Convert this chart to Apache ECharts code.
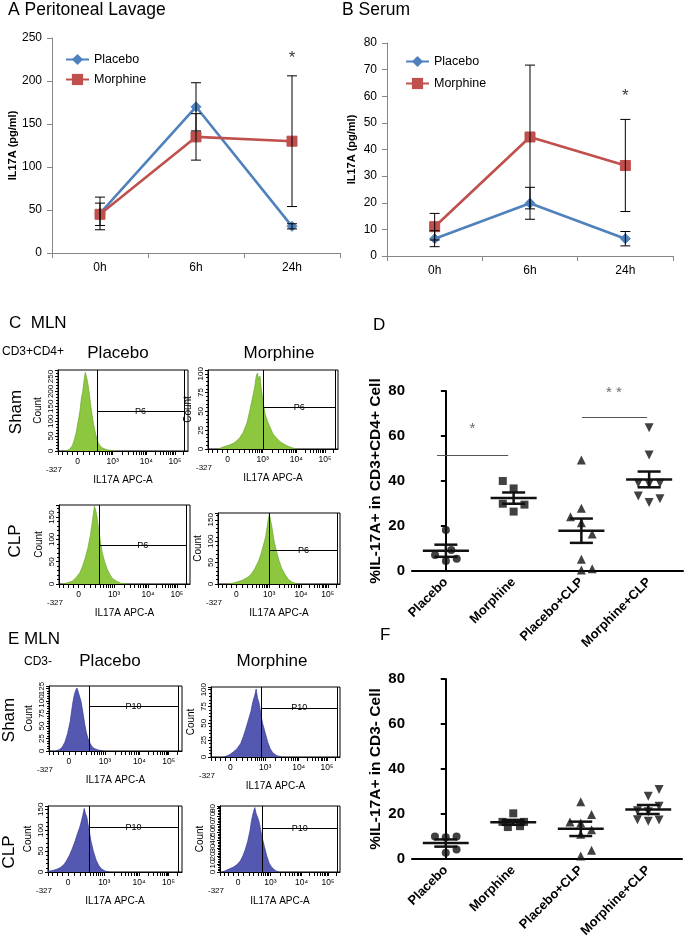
<!DOCTYPE html>
<html><head><meta charset="utf-8">
<script src="https://cdn.jsdelivr.net/npm/echarts@6/dist/echarts.min.js"></script>
<style>html,body{margin:0;padding:0;background:#fff}#c{width:685px;height:946px}</style>
</head><body><div id="c"></div>
<script>
// ---------- DATA ----------
const timeCats = ['0h', '6h', '24h'];
const lavagePlacebo = [46, 170, 31];
const lavagePlaceboErr = [19, 28, 3];
const lavageMorphine = [45, 135, 130];
const lavageMorphineErr = [13, 27, 76];
const lavageStar = [['24h', 226]];
const serumPlacebo = [6.5, 19.8, 6.5];
const serumPlaceboErr = [3, 6, 2.7];
const serumMorphine = [11, 44.7, 34];
const serumMorphineErr = [5, 27, 17.3];
const serumStar = [['24h', 60]];

const groupCats = ['Placebo', 'Morphine', 'Placebo+CLP', 'Morphine+CLP'];
// panel D: values and jitter (category units)
const dPlacebo = [18.2, 7.1, 9.3, 4.4, 5.5];
const dPlaceboJit = [0, -0.16, 0.08, 0, 0.16];
const dMorphine = [40, 36.7, 29.9, 29.5, 26.4];
const dMorphineJit = [-0.16, 0, -0.16, 0.16, 0];
const dPlaceboCLP = [49.3, 27.9, 24.1, 21.5, 16.4, 5.2, 0.4, 1.0];
const dPlaceboCLPJit = [0, 0, -0.16, 0, 0.16, 0, 0, 0.16];
const dMorphineCLP = [63.7, 51.6, 39, 38.7, 39, 33.3, 30.5, 32.1];
const dMorphineCLPJit = [0, 0, -0.16, 0, 0.16, -0.16, 0, 0.16];
const dMean = [9.0, 32.4, 17.9, 40.7];
const dSem = [2.7, 2.5, 5.4, 3.5];
const dSigLines = [[-0.13, 0.92, 51.4], [2.01, 2.97, 68.3]];
const dSigStars = [[0.39, 63, '*'], [2.48, 79, '* *']];
// panel F
const fPlacebo = [10.0, 9.7, 10.0, 2.8, 4.2];
const fPlaceboJit = [-0.16, 0, 0.16, 0, 0.16];
const fMorphine = [20.3, 16.5, 16.5, 14.2, 14.6];
const fMorphineJit = [0, -0.16, 0.16, -0.08, 0.1];
const fPlaceboCLP = [25.4, 19.8, 16.5, 16.0, 13.0, 11.0, 3.9, 1.3];
const fPlaceboCLPJit = [0, 0.16, -0.16, 0, 0.16, 0, 0.16, 0];
const fMorphineCLP = [30.9, 27.9, 23.5, 21.5, 21.0, 17.5, 16.8, 17.3];
const fMorphineCLPJit = [0.16, 0, 0.16, -0.16, 0, -0.16, 0, 0.16];
const fMean = [7.1, 16.3, 13.4, 22.0];
const fSem = [1.6, 1.1, 3.2, 2.0];

// flow histograms: [position (display units 0-100), count]
const cShamPlacebo = [[5,0],[7,2],[9,6],[11,18],[12,30],[13,45],[14,62],[15,88],[16,112],[17,138],[18,178],[19,198],[20,236],[21,264],[22,248],[23,226],[24,196],[25,158],[26,128],[27,98],[28,76],[29,56],[30,40],[31,28],[32,19],[34,11],[36,7],[38,4],[41,2],[45,0]];
const cShamMorphine = [[8,0],[12,3],[16,5],[20,8],[24,14],[27,22],[30,35],[32,50],[34,66],[36,83],[37,96],[38,101],[39,92],[40,97],[41,80],[42,68],[43,56],[44,46],[46,36],[48,28],[50,20],[53,14],[56,9],[60,5],[64,2],[68,0]];
const cCLPPlacebo = [[2,0],[6,2],[10,6],[13,14],[16,26],[18,40],[20,58],[22,80],[24,110],[25,130],[26,152],[27,174],[28,166],[29,150],[30,128],[31,108],[32,88],[33,70],[35,48],[37,32],[39,20],[41,12],[44,6],[47,2],[52,0]];
const cCLPMorphine = [[8,0],[12,2],[16,5],[20,9],[24,15],[27,22],[30,35],[33,52],[35,68],[37,88],[39,110],[40,128],[41,148],[42,163],[43,150],[44,136],[45,118],[46,100],[48,76],[50,55],[52,38],[55,22],[58,10],[61,4],[65,0]];
const eShamPlacebo = [[5,0],[8,3],[10,8],[12,18],[14,35],[16,60],[17,80],[18,98],[19,112],[20,121],[21,126],[22,118],[23,116],[24,100],[25,85],[26,68],[27,52],[28,38],[29,28],[30,20],[32,10],[34,5],[37,2],[41,0]];
const eShamMorphine = [[10,0],[14,3],[17,7],[20,12],[23,20],[25,30],[27,42],[29,55],[31,68],[32,78],[33,86],[34,92],[35,101],[36,88],[37,82],[38,72],[39,60],[40,50],[42,36],[44,22],[46,12],[48,6],[51,2],[55,0]];
const eCLPPlacebo = [[0,2],[3,3],[6,6],[9,10],[12,18],[14,28],[16,40],[18,55],[20,72],[22,92],[24,110],[25,123],[26,136],[27,152],[28,140],[29,131],[30,112],[31,95],[32,75],[34,48],[36,28],[38,15],[40,7],[43,2],[46,0]];
const eCLPMorphine = [[2,0],[5,2],[8,4],[11,6],[14,9],[17,14],[19,20],[21,28],[23,38],[25,52],[26,62],[27,70],[28,76],[29,81],[30,74],[31,72],[32,66],[33,60],[34,52],[35,44],[37,32],[39,20],[41,11],[43,6],[46,2],[49,0]];
const histData = [cShamPlacebo, cShamMorphine, cCLPPlacebo, cCLPMorphine, eShamPlacebo, eShamMorphine, eCLPPlacebo, eCLPMorphine];
// gates: [left, right, level]
const histGates = [[30,97,134],[42.3,98,55],[31,97,87],[42,98,79],[30,97,89],[38.8,98,73],[30.6,97,106],[35,98,55]];
const histGateNames = ['P6','P6','P6','P6','P10','P10','P10','P10'];
const histYMax = [272,105,177,166,130,104,158,83];
const histYStep = [50,25,50,50,25,25,50,10];
const histTickLabels = {0:'{l|-327}', 15:'0', 42:'10³', 68:'10⁴', 90:'10⁵'};
const histLabelPos = [0, 15, 42, 68, 90];
const histTickPos = [0,3.5,7,11,15,19.5,24,28,31.5,34,36,37.7,39.2,40.6,42,49.8,54.4,57.7,60.2,62.2,64,65.5,66.8,68,74.6,78.5,81.2,83.4,85.1,86.6,87.9,89,90,96.6];

// ---------- LAYOUT ----------
const FONT = 'Liberation Sans, Arial, sans-serif';
const histLayout = [
  {left:58, top:370, width:130, height:81},
  {left:208, top:370, width:130, height:79},
  {left:59, top:505, width:131, height:79},
  {left:218, top:513, width:122, height:71},
  {left:49, top:686, width:133, height:65},
  {left:211, top:687, width:129, height:70},
  {left:48, top:806, width:134, height:66},
  {left:220, top:806, width:120, height:66}
];
const histFill = ['#8dc63f','#8dc63f','#8dc63f','#8dc63f','#5558b0','#5558b0','#5558b0','#5558b0'];
const histEdge = ['#6aa830','#6aa830','#6aa830','#6aa830','#363a96','#363a96','#363a96','#363a96'];

const grids = [
  {left:52, top:38, width:288, height:215},
  {left:387, top:43, width:286, height:213},
  {left:412, top:391, width:271, height:180},
  {left:412, top:679, width:270, height:180}
].concat(histLayout.map(h => Object.assign({show:true, borderColor:'#000', borderWidth:1}, h)));
grids.forEach(g => { g.outerBoundsMode = 'none'; g.containLabel = false; });

const xAxes = [], yAxes = [], series = [];

// Excel-style line charts
function excelAxes(gi, ymax, step) {
  xAxes.push({gridIndex:gi, type:'category', data:timeCats, boundaryGap:true,
    axisLine:{lineStyle:{color:'#868686', width:1}}, axisTick:{show:true, length:5, lineStyle:{color:'#868686'}},
    axisLabel:{color:'#000', fontSize:12, fontFamily:FONT, margin:9}});
  yAxes.push({gridIndex:gi, type:'value', min:0, max:ymax, interval:step,
    axisLine:{show:true, lineStyle:{color:'#868686', width:1}}, axisTick:{show:true, length:5, lineStyle:{color:'#868686'}},
    splitLine:{show:false}, axisLabel:{color:'#000', fontSize:12, fontFamily:FONT, margin:10},
    name:'IL17A (pg/ml)', nameLocation:'middle', nameGap:gi === 0 ? 34 : 30,
    nameTextStyle:{color:'#000', fontSize:11, fontWeight:'bold', fontFamily:FONT}});
}
excelAxes(0, 250, 50);
excelAxes(1, 80, 10);

function errBars(ai, vals, errs) {
  return {type:'custom', xAxisIndex:ai, yAxisIndex:ai, z:5, silent:true,
    data: vals.map((v, i) => [i, v - errs[i], v + errs[i]]),
    renderItem(p, api) {
      const lo = api.coord([api.value(0), api.value(1)]);
      const hi = api.coord([api.value(0), api.value(2)]);
      const w = 5, st = {stroke:'#000', lineWidth:1};
      return {type:'group', children:[
        {type:'line', shape:{x1:lo[0], y1:lo[1], x2:hi[0], y2:hi[1]}, style:st},
        {type:'line', shape:{x1:lo[0]-w, y1:lo[1], x2:lo[0]+w, y2:lo[1]}, style:st},
        {type:'line', shape:{x1:hi[0]-w, y1:hi[1], x2:hi[0]+w, y2:hi[1]}, style:st}
      ]};
    }};
}
function lineSeries(ai, name, vals, color, sym, size) {
  return {type:'line', name, xAxisIndex:ai, yAxisIndex:ai, data:vals, symbol:sym, symbolSize:size,
    lineStyle:{color, width:2.6}, itemStyle:{color, borderColor:color}, z:3};
}
function starSeries(ai, pts) {
  return {type:'scatter', xAxisIndex:ai, yAxisIndex:ai, data:pts, symbolSize:0, silent:true,
    label:{show:true, formatter:'*', position:'inside', fontSize:17, color:'#000', fontFamily:FONT}};
}
series.push(lineSeries(0, 'Placebo', lavagePlacebo, '#4F81BD', 'diamond', 10));
series.push(lineSeries(0, 'Morphine', lavageMorphine, '#C0504D', 'rect', 10));
series.push(errBars(0, lavagePlacebo, lavagePlaceboErr));
series.push(errBars(0, lavageMorphine, lavageMorphineErr));
series.push(starSeries(0, lavageStar));
series.push(lineSeries(1, 'Placebo', serumPlacebo, '#4F81BD', 'diamond', 10));
series.push(lineSeries(1, 'Morphine', serumMorphine, '#C0504D', 'rect', 10));
series.push(errBars(1, serumPlacebo, serumPlaceboErr));
series.push(errBars(1, serumMorphine, serumMorphineErr));
series.push(starSeries(1, serumStar));

// GraphPad-style scatter charts: grid 2 (D), grid 3 (F)
function prismAxes(gi, yname) {
  const catIdx = xAxes.length;
  xAxes.push({gridIndex:gi, type:'category', data:groupCats, boundaryGap:true,
    axisLine:{lineStyle:{color:'#000', width:2}}, axisTick:{alignWithLabel:true, length:6, lineStyle:{color:'#000', width:2}},
    axisLabel:{interval:0, rotate:45, color:'#000', fontSize:13, fontWeight:'bold', fontFamily:FONT, margin:9}});
  xAxes.push({gridIndex:gi, type:'value', min:-0.5, max:3.5, show:false});
  const yIdx = yAxes.length;
  yAxes.push({gridIndex:gi, type:'value', min:0, max:80, interval:20,
    axisLine:{show:true, lineStyle:{color:'#000', width:2}}, axisTick:{show:true, length:5, lineStyle:{color:'#000', width:2}},
    splitLine:{show:false}, axisLabel:{color:'#000', fontSize:15, fontWeight:'bold', fontFamily:FONT, margin:7},
    name:yname, nameLocation:'middle', nameGap:28,
    nameTextStyle:{color:'#000', fontSize:15.5, fontWeight:'bold', fontFamily:FONT}});
  return {vx: catIdx + 1, y: yIdx};
}
function groupPoints(ax, ci, vals, jit, sym, size, rot) {
  return {type:'scatter', xAxisIndex:ax.vx, yAxisIndex:ax.y, silent:true, z:4,
    data: vals.map((v, i) => [ci + jit[i], v]), symbol:sym, symbolSize:size, symbolRotate:rot || 0,
    itemStyle:{color:'#111'}};
}
function meanSem(ax, means, sems) {
  return {type:'custom', xAxisIndex:ax.vx, yAxisIndex:ax.y, z:6, silent:true,
    data: means.map((m, i) => [i, m, sems[i]]),
    renderItem(p, api) {
      const c = api.value(0), m = api.value(1), s = api.value(2);
      const l = api.coord([c - 0.34, m]), r = api.coord([c + 0.34, m]);
      const hl = api.coord([c - 0.17, m + s]), hr = api.coord([c + 0.17, m + s]);
      const ll = api.coord([c - 0.17, m - s]), lr = api.coord([c + 0.17, m - s]);
      const mid = api.coord([c, m]);
      const st = {stroke:'#111', lineWidth:2.5};
      return {type:'group', children:[
        {type:'line', shape:{x1:l[0], y1:l[1], x2:r[0], y2:r[1]}, style:st},
        {type:'line', shape:{x1:hl[0], y1:hl[1], x2:hr[0], y2:hr[1]}, style:st},
        {type:'line', shape:{x1:ll[0], y1:ll[1], x2:lr[0], y2:lr[1]}, style:st},
        {type:'line', shape:{x1:mid[0], y1:hl[1], x2:mid[0], y2:ll[1]}, style:st}
      ]};
    }};
}
const axD = prismAxes(2, '%IL-17A+ in CD3+CD4+ Cell');
series.push(groupPoints(axD, 0, dPlacebo, dPlaceboJit, 'circle', 8));
series.push(groupPoints(axD, 1, dMorphine, dMorphineJit, 'rect', 8));
series.push(groupPoints(axD, 2, dPlaceboCLP, dPlaceboCLPJit, 'triangle', 9));
series.push(groupPoints(axD, 3, dMorphineCLP, dMorphineCLPJit, 'triangle', 9, 180));
series.push(meanSem(axD, dMean, dSem));
series.push({type:'scatter', xAxisIndex:axD.vx, yAxisIndex:axD.y, silent:true, symbolSize:0,
  data: dSigStars.map(s => ({value:[s[0], s[1]], label:{formatter:s[2]}})),
  label:{show:true, position:'inside', fontSize:15, color:'#444', fontFamily:FONT},
  markLine:{silent:true, symbol:'none', label:{show:false}, lineStyle:{color:'#555', width:1.2, type:'solid'},
    data: dSigLines.map(s => [{coord:[s[0], s[2]]}, {coord:[s[1], s[2]]}])}});
const axF = prismAxes(3, '%IL-17A+ in CD3- Cell');
series.push(groupPoints(axF, 0, fPlacebo, fPlaceboJit, 'circle', 8));
series.push(groupPoints(axF, 1, fMorphine, fMorphineJit, 'rect', 8));
series.push(groupPoints(axF, 2, fPlaceboCLP, fPlaceboCLPJit, 'triangle', 9));
series.push(groupPoints(axF, 3, fMorphineCLP, fMorphineCLPJit, 'triangle', 9, 180));
series.push(meanSem(axF, fMean, fSem));

// flow histograms
histData.forEach((arr, k) => {
  const gi = 4 + k;
  const xi = xAxes.length, yi = yAxes.length;
  const step = histYStep[k];
  xAxes.push({gridIndex:gi, type:'value', min:0, max:100,
    axisLine:{lineStyle:{color:'#000', width:1}},
    axisTick:{show:true, customValues:histTickPos, length:4, lineStyle:{color:'#000', width:1}},
    splitLine:{show:false},
    axisLabel:{customValues:histLabelPos, formatter:v => histTickLabels[Math.round(v)] || '',
      fontSize:8.5, color:'#000', fontFamily:FONT, margin:6,
      rich:{l:{fontSize:8, padding:[9,8,0,0], fontFamily:FONT, color:'#000'}}},
    name:'IL17A APC-A', nameLocation:'middle', nameGap:21,
    nameTextStyle:{fontSize:10, color:'#000', fontFamily:FONT}});
  yAxes.push({gridIndex:gi, type:'value', min:0, max:histYMax[k], interval:step,
    axisLine:{show:true, lineStyle:{color:'#000', width:1}},
    axisTick:{show:true, length:3, lineStyle:{color:'#000'}},
    minorTick:{show:true, splitNumber:5, length:2, lineStyle:{color:'#000'}},
    splitLine:{show:false},
    axisLabel:{rotate:90, fontSize:8, color:'#000', fontFamily:FONT, margin:3,
      formatter:v => (v % step === 0 ? String(v) : '')},
    name:'Count', nameLocation:'middle', nameGap:15,
    nameTextStyle:{fontSize:10, color:'#000', fontFamily:FONT}});
  const g = histGates[k];
  series.push({type:'line', xAxisIndex:xi, yAxisIndex:yi, data:arr, symbol:'none', silent:true,
    lineStyle:{color:histEdge[k], width:0.7}, areaStyle:{color:histFill[k], opacity:1},
    markLine:{silent:true, symbol:'none', label:{show:false}, lineStyle:{color:'#000', width:1, type:'solid'},
      data:[[{coord:[g[0], 0]}, {coord:[g[0], histYMax[k]]}],
            [{coord:[g[0], g[2]]}, {coord:[g[1], g[2]]}],
            [{coord:[g[1], 0]}, {coord:[g[1], histYMax[k]]}]]},
    markPoint:{silent:true, symbol:'circle', symbolSize:0,
      data:[{coord:[(g[0] + g[1]) / 2, g[2]]}],
      label:{show:true, position:'inside', formatter:histGateNames[k], fontSize:9, color:'#000', fontFamily:FONT}}});
});

// text labels
function txt(text, x, y, size, opts) {
  opts = opts || {};
  return {type:'text', x, y, rotation:opts.rot || 0, silent:true,
    style:{text, font:(opts.bold ? 'bold ' : '') + size + 'px ' + FONT, fill:'#000',
      textAlign:opts.align || 'left', textVerticalAlign:'middle'}};
}
const R = Math.PI / 2;
const graphics = [
  txt('A Peritoneal Lavage', 8, 10, 17.5),
  txt('B Serum', 342, 10, 17.5),
  txt('C  MLN', 9, 323, 17),
  txt('CD3+CD4+', 2, 352, 12),
  txt('Placebo', 118, 353, 17, {align:'center'}),
  txt('Morphine', 279, 353, 17, {align:'center'}),
  txt('Sham', 16, 412, 17, {align:'center', rot:R}),
  txt('CLP', 15, 541, 17, {align:'center', rot:R}),
  txt('D', 373, 325, 17),
  txt('E MLN', 8, 639, 17),
  txt('CD3-', 24, 662, 12),
  txt('Placebo', 110, 661, 17, {align:'center'}),
  txt('Morphine', 272, 661, 17, {align:'center'}),
  txt('Sham', 9, 720, 17, {align:'center', rot:R}),
  txt('CLP', 9, 852, 17, {align:'center', rot:R}),
  txt('F', 380, 635, 17)
];

const chart = echarts.init(document.getElementById('c'), null, {renderer:'canvas'});
chart.setOption({
  animation:false,
  backgroundColor:'#fff',
  textStyle:{fontFamily:FONT},
  grid:grids, xAxis:xAxes, yAxis:yAxes, series,
  legend:[
    {left:65, top:53, padding:0, orient:'vertical', itemWidth:23, itemHeight:14, itemGap:7, data:['Placebo','Morphine'],
      textStyle:{fontSize:12.5, color:'#000', fontFamily:FONT}, selectedMode:false},
    {left:405, top:55, padding:0, orient:'vertical', itemWidth:23, itemHeight:14, itemGap:9, data:['Placebo','Morphine'],
      textStyle:{fontSize:12.5, color:'#000', fontFamily:FONT}, selectedMode:false}
  ],
  graphic:graphics
});
</script></body></html>
